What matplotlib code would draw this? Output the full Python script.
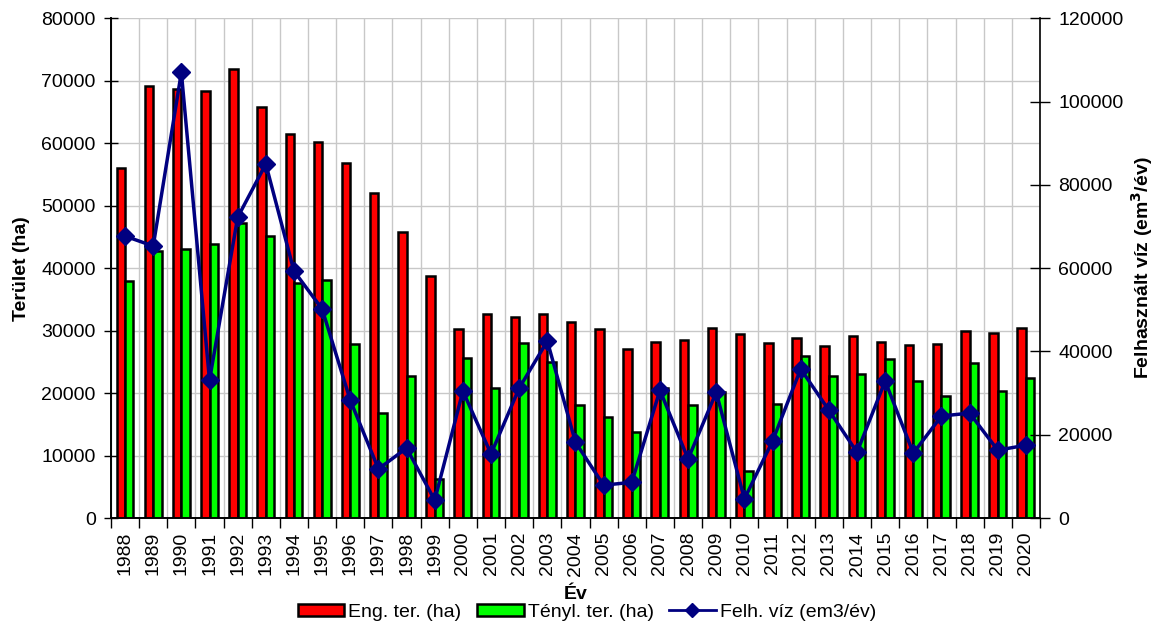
import matplotlib
matplotlib.use("Agg")
import matplotlib.pyplot as plt
from matplotlib.lines import Line2D
from matplotlib.patches import Patch
import numpy as np

plt.rcParams['font.family'] = ['Liberation Sans', 'DejaVu Sans']

years = [str(y) for y in range(1988, 2021)]
eng_ter = [56000, 69200, 68700, 68400, 71800, 65800, 61500, 60200, 56800, 52000,
           45800, 38700, 30200, 32700, 32200, 32700, 31400, 30200, 27000, 28200,
           28500, 30400, 29400, 28100, 28800, 27600, 29200, 28200, 27700, 27900,
           29900, 29700, 30400]
tenyl_ter = [38000, 42800, 43000, 43900, 47200, 45100, 37600, 38100, 27800, 16800,
             22700, 6300, 25700, 20900, 28100, 25000, 18100, 16200, 13700, 20800,
             18100, 20200, 7600, 18200, 25900, 22800, 23100, 25400, 22000, 19500,
             24900, 20300, 22400]
felh_viz = [67700, 65300, 107000, 33100, 72200, 85000, 59300, 50200, 28300, 11800,
            16800, 4300, 30500, 15400, 31200, 42500, 18200, 7900, 8600, 30700,
            14200, 30200, 4600, 18500, 35800, 25900, 15800, 32900, 15600, 24500,
            25200, 16300, 17500]
legend_labels = ['Eng. ter. (ha)', 'Tényl. ter. (ha)', 'Felh. víz (em3/év)']

FS = 14
fig = plt.figure(figsize=(11.62, 6.28), dpi=100)
ax = fig.add_axes([0.0955, 0.175, 0.7995, 0.796])
ax2 = ax.twinx()

x = np.arange(len(years))
w = 0.3
ax.bar(x - w / 2, eng_ter, w, color='#FF0000', edgecolor='black', linewidth=1.8, zorder=3)
ax.bar(x + w / 2, tenyl_ter, w, color='#00FF00', edgecolor='black', linewidth=1.8, zorder=3)
ax2.plot(x, felh_viz, color='#000080', linewidth=2.5, marker='D', markersize=9, zorder=4)

ax.set_xlim(-0.5, len(years) - 0.5)
ax.set_ylim(0, 80000)
ax2.set_ylim(0, 120000)
ax.set_yticks(np.arange(0, 80001, 10000))
ax2.set_yticks(np.arange(0, 120001, 20000))

ax.set_xticks(x)
ax.set_xticklabels(years, rotation=90, fontsize=FS)
ax.set_xticks(np.arange(-0.5, len(years), 1), minor=True)
ax.tick_params(axis='x', which='major', length=0, pad=10)
ax.tick_params(axis='x', which='minor', length=7, direction='out', width=1)
ax.tick_params(axis='y', labelsize=FS, length=10, width=1, direction='inout', pad=6)
ax2.tick_params(axis='y', labelsize=FS, length=14, width=1, direction='inout', pad=6)

ax.yaxis.grid(True, color='#C8C8C8', linewidth=1, zorder=0)
ax.xaxis.grid(True, which='minor', color='#C8C8C8', linewidth=1, zorder=0)
ax.set_axisbelow(True)

for a in (ax, ax2):
    a.spines['top'].set_visible(False)
    for s in ('left', 'right', 'bottom'):
        a.spines[s].set_linewidth(1.2)
ax.spines['right'].set_visible(False)

ax.set_ylabel('Terület (ha)', fontsize=FS, fontweight='bold', labelpad=8)
ax2.set_ylabel('Felhasznált víz (em$^\\mathbf{3}$/év)', fontsize=FS, fontweight='bold', labelpad=4)
ax.set_xlabel('Év', fontsize=FS, fontweight='bold')
ax.xaxis.set_label_coords(0.5, -0.152)
ax.xaxis.label.set_va('center')

handles = [Patch(facecolor='#FF0000', edgecolor='black', linewidth=1.8),
           Patch(facecolor='#00FF00', edgecolor='black', linewidth=1.8),
           Line2D([0], [0], color='#000080', linewidth=2, marker='D', markersize=7)]
fig.legend(handles, legend_labels, loc='center', bbox_to_anchor=(0.505, 0.025), ncol=3,
           frameon=False, fontsize=FS, handlelength=2.4, handleheight=0.55,
           handletextpad=0.2, columnspacing=0.8, borderpad=0)

fig.savefig('out.png', dpi=100)
